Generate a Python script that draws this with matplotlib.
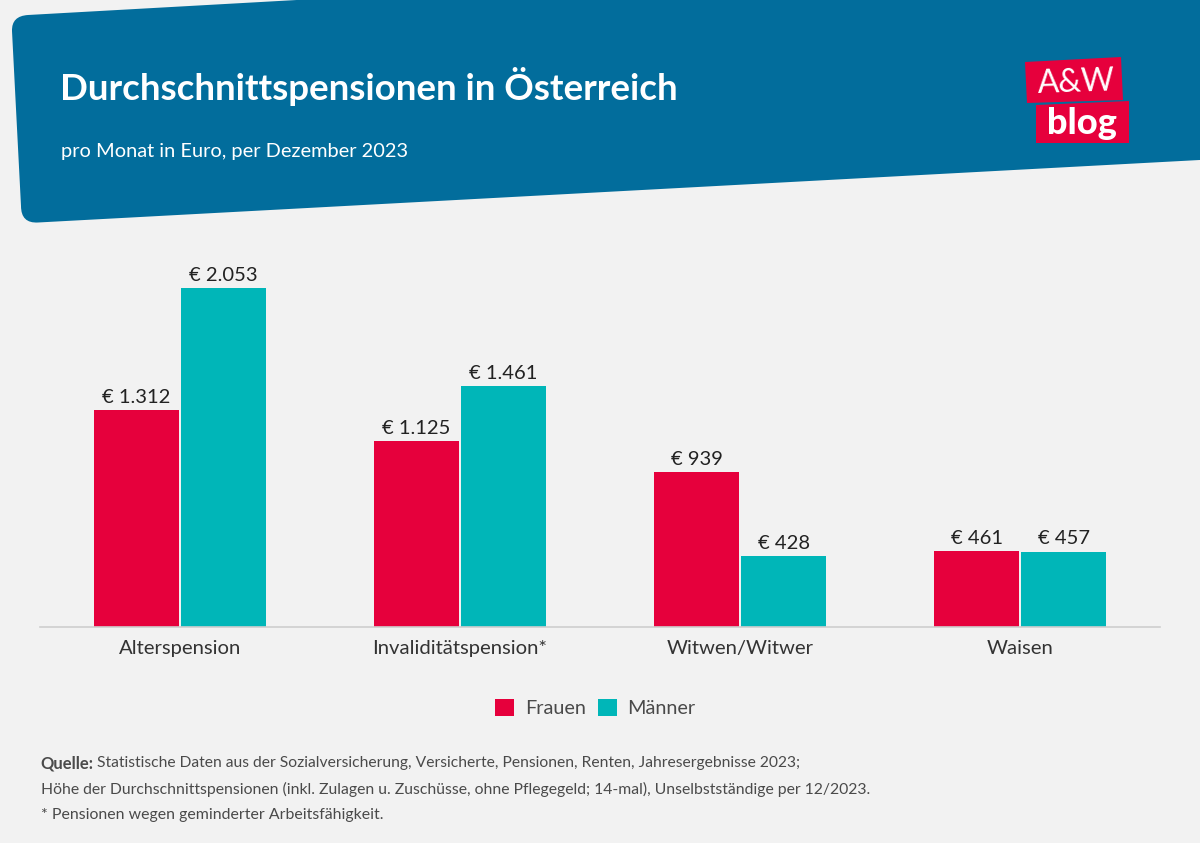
import matplotlib
matplotlib.use('Agg')
import matplotlib.pyplot as plt
import matplotlib.patches as pc
from matplotlib.path import Path
import numpy as np

# Data
categories = ['Alterspension', 'Invaliditätspension*', 'Witwen/Witwer', 'Waisen']
frauen = [1312, 1125, 939, 461]
maenner = [2053, 1461, 428, 457]
frauenLabels = ['€ 1.312', '€ 1.125', '€ 939', '€ 461']
maennerLabels = ['€ 2.053', '€ 1.461', '€ 428', '€ 457']

# Colours
bg = '#F2F2F2'
blue = '#026D9C'
red = '#E6003C'
teal = '#00B6B8'
dark = '#333333'
grey = '#4A4A4A'

font = 'Lato'
plt.rcParams['font.family'] = [font, 'DejaVu Sans']

fig = plt.figure(figsize=(12, 8.43), dpi=100, facecolor=bg)

# Overlay in pixel coordinates for banner, logo and texts
bgAx = fig.add_axes([0, 0, 1, 1])
bgAx.set_xlim(0, 1200)
bgAx.set_ylim(843, 0)
bgAx.axis('off')

verts = [(28, 15), (1300, -56), (1300, 154.6), (38, 222.5), (21, 223.5), (21, 206),
         (12, 31), (11.5, 16), (28, 15), (28, 15)]
codes = [Path.MOVETO, Path.LINETO, Path.LINETO, Path.LINETO, Path.CURVE3, Path.CURVE3,
         Path.LINETO, Path.CURVE3, Path.CURVE3, Path.CLOSEPOLY]
bgAx.add_patch(pc.PathPatch(Path(verts, codes), fc=blue, ec='none'))

bgAx.text(60, 87, 'Durchschnittspensionen in Österreich', color='white', fontsize=26.4,
          fontweight='bold', va='center')
bgAx.text(61, 152, 'pro Monat in Euro, per Dezember 2023', color='white', fontsize=14.4,
          va='center')

# Logo
bgAx.add_patch(pc.Polygon([(1025, 62), (1121, 57), (1123, 100), (1027, 103)], fc=red, ec='none'))
bgAx.add_patch(pc.Polygon([(1036, 105), (1129, 101), (1129, 143), (1036, 143)], fc=red, ec='none'))
bgAx.text(1076, 83, 'A&W', color='white', fontsize=23, ha='center', va='center', rotation=2)
bgAx.text(1082, 123, 'blog', color='white', fontsize=26, ha='center', va='center',
          fontweight='black')

# Bars
ax = fig.add_axes([40.1 / 1200, (843 - 627) / 843, 1120 / 1200, 339 / 843])
ax.patch.set_alpha(0)
x = np.arange(len(categories))
barWidth = 85.4 / 280
offset = 43.5 / 280
b1 = ax.bar(x - offset, frauen, barWidth, color=red, label='Frauen')
b2 = ax.bar(x + offset, maenner, barWidth, color=teal, label='Männer')
ax.bar_label(b1, labels=frauenLabels, padding=3, fontsize=14.5, color='#222222')
ax.bar_label(b2, labels=maennerLabels, padding=3, fontsize=14.5, color='#222222')

ax.set_xlim(-0.5, 3.5)
ax.set_ylim(0, 2053)
ax.set_xticks(x)
ax.set_xticklabels(categories, fontsize=14.6, color=dark, va='baseline')
ax.tick_params(axis='x', length=0, pad=19.2)
ax.set_yticks([])
for s in ['top', 'left', 'right']:
    ax.spines[s].set_visible(False)
ax.spines['bottom'].set_color('#CFCFCF')
ax.spines['bottom'].set_linewidth(1.2)

ax.legend(loc='center', bbox_to_anchor=(595.5, 708), bbox_transform=bgAx.transData, ncol=2, frameon=False,
          fontsize=14.3, labelcolor=grey, handlelength=0.93, handleheight=0.93,
          handletextpad=0.55, columnspacing=0.62)

# Footer
bgAx.text(40.5, 763.5, 'Quelle:', fontsize=12, fontweight='bold', color=grey, va='center')
bgAx.text(97, 763.5, 'Statistische Daten aus der Sozialversicherung, Versicherte, Pensionen, Renten, Jahresergebnisse 2023;',
          fontsize=11.25, color=grey, va='center')
bgAx.text(41, 789.5, 'Höhe der Durchschnittspensionen (inkl. Zulagen u. Zuschüsse, ohne Pflegegeld; 14-mal), Unselbstständige per 12/2023.',
          fontsize=11.3, color=grey, va='center')
bgAx.text(41, 815.5, '* Pensionen wegen geminderter Arbeitsfähigkeit.', fontsize=11.4, color=grey, va='center')

fig.savefig('out.png', dpi=100, facecolor=bg)
